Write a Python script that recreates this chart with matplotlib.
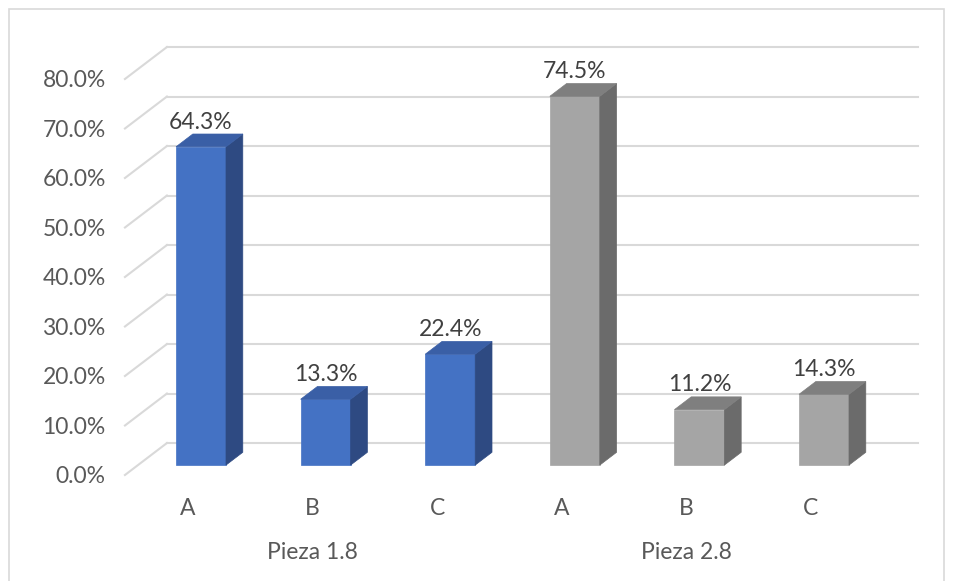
import matplotlib.pyplot as plt
from matplotlib.patches import Polygon, Rectangle

# data
groups = ['Pieza 1.8', 'Pieza 2.8']
cats = ['A', 'B', 'C']
pieza18 = [64.3, 13.3, 22.4]
pieza28 = [74.5, 11.2, 14.3]
yticks = [0, 10, 20, 30, 40, 50, 60, 70, 80]

# colours: front, side, top
blue = ['#4472C4', '#2E4A82', '#3A5FA6']
grey = ['#A5A5A5', '#6B6B6B', '#7F7F7F']
txt = '#595959'
grid = '#D9D9D9'
fs = 16.5

plt.rcParams['font.family'] = ['Lato', 'DejaVu Sans']

fig = plt.figure(figsize=(9.54, 5.81), dpi=100)
ax = fig.add_axes([0, 0, 1, 1])
ax.axis('off')
# one category step = 124.6 px, one percent = 4.95 px
ax.set_xlim(-188 / 124.6, (954 - 188) / 124.6)
ax.set_ylim((475 - 581) / 4.95, 475 / 4.95)

# 3d depth of the plot box
dx = 0.337
dy = 6.46
x_left = -0.506
x_right = 5.859

for v in yticks:
    ax.plot([x_left, x_left + dx], [v, v + dy], color=grid, lw=1.5, zorder=1)
    ax.plot([x_left + dx, x_right], [v + dy, v + dy], color=grid, lw=1.5, zorder=1)
    ax.text(-0.66, v - 0.4, '%.1f%%' % v, ha='right', va='center', fontsize=fs, color=txt)

# bars sit at 31% .. 71% of depth
f0 = 0.31
bd = 0.40
w = 0.401
vals = pieza18 + pieza28
cols = [blue] * 3 + [grey] * 3
for i, v in enumerate(vals):
    c = cols[i]
    x0 = i + f0 * dx - w / 2
    x1 = x0 + w
    y0 = f0 * dy
    y1 = y0 + v
    ox = bd * dx
    oy = bd * dy
    ax.add_patch(Polygon([(x0, y0), (x1, y0), (x1, y1), (x0, y1)], closed=True,
                         facecolor=c[0], edgecolor=c[0], lw=0.5, zorder=3))
    ax.add_patch(Polygon([(x1, y0), (x1 + ox, y0 + oy), (x1 + ox, y1 + oy), (x1, y1)], closed=True,
                         facecolor=c[1], edgecolor=c[1], lw=0.5, zorder=3))
    ax.add_patch(Polygon([(x0, y1), (x1, y1), (x1 + ox, y1 + oy), (x0 + ox, y1 + oy)], closed=True,
                         facecolor=c[2], edgecolor=c[2], lw=0.5, zorder=3))
    ax.text(x0 + w / 2, y1 + 5.0, '%.1f%%' % v, ha='center', va='center',
            fontsize=fs, color='#404040', zorder=4)

for i in range(6):
    ax.text(i, -6.67, cats[i % 3], ha='center', va='center', fontsize=fs, color=txt)
for g, name in enumerate(groups):
    ax.text(1 + 3 * g, -15.6, name, ha='center', va='center', fontsize=fs, color=txt)

# chart border
fig.add_artist(Rectangle((9 / 954, -0.05), (944 - 9) / 954, 1.05 - 9 / 581,
                         transform=fig.transFigure, fill=False, edgecolor=grid, lw=1.2))

fig.savefig('out.png', dpi=100)
